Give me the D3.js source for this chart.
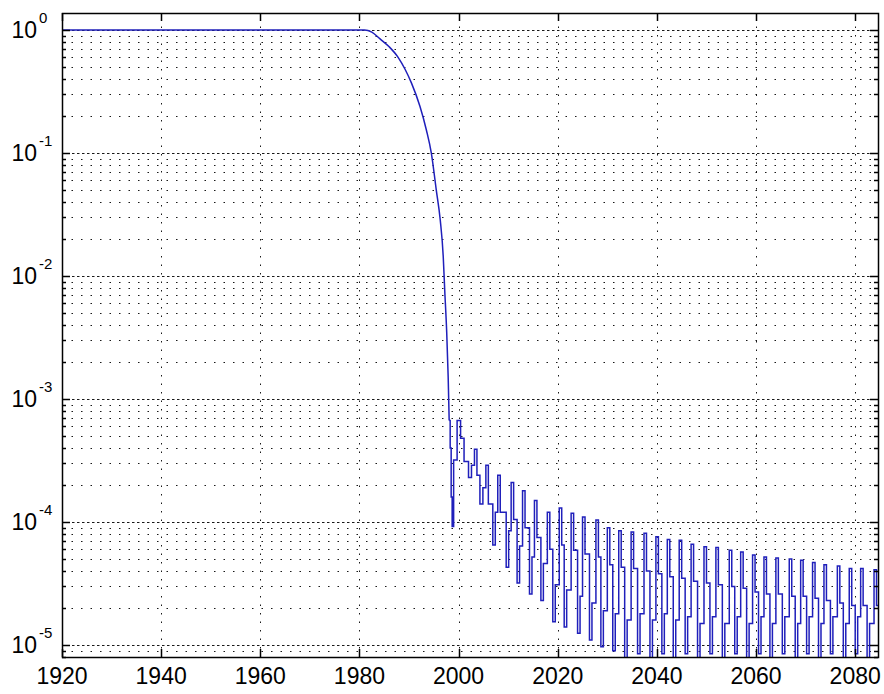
<!DOCTYPE html>
<html>
<head>
<meta charset="utf-8">
<script src="https://cdn.jsdelivr.net/npm/d3@7"></script>
<style>
body{margin:0;background:#fff;}
text{font-family:"Liberation Sans",Arial,sans-serif;fill:#000;}
</style>
</head>
<body>
<div id="chart"></div>
<script>
//width and height
var w = 884;
var h = 694;
var plotLeft = 62, plotRight = 878, plotTop = 13, plotBottom = 657;

// axis settings
var xTicks = [1920,1940,1960,1980,2000,2020,2040,2060,2080];
var yTickExps = [0,-1,-2,-3,-4,-5];
var xLimits = [1920, 2084.6];
var yLimits = [8e-6, 1.375];

// smooth fall-off part of the curve
var decayYears  = [1920, 1981, 1982.5, 1984.1, 1986.0, 1987.8, 1989.2, 1990.5, 1992.2, 1993.5,
                   1994.5, 1995.5, 1996.3, 1996.9, 1997.2, 1997.6, 1997.9, 1998.1];
var decayValues = [1, 1, 0.96, 0.85, 0.73, 0.6, 0.48, 0.37, 0.24, 0.154,
                   0.1, 0.05, 0.0285, 0.0144, 0.0077, 0.0035, 0.0015, 6.7e-4];

// oscillating tail (drawn as steps)
var oscYears = [1998.1, 1998.3, 1998.5, 1998.7, 1999.0, 1999.7, 2000.4, 2001.1, 2002.0, 2002.6,
  2003.2, 2003.7, 2004.3, 2004.9, 2005.5, 2006.0, 2006.9, 2007.4, 2007.9, 2008.4,
  2009.6, 2010.1, 2010.6, 2011.1, 2011.8, 2012.3, 2012.9, 2013.4, 2014.3, 2014.8,
  2015.3, 2015.8, 2016.6, 2017.1, 2017.9, 2018.4, 2019.0, 2019.5, 2020.3, 2020.8,
  2021.3, 2021.8, 2022.7, 2023.2, 2024.0, 2024.5, 2025.0, 2025.5, 2026.4, 2026.9,
  2027.7, 2028.2, 2028.7, 2029.2, 2030.0, 2030.5, 2031.1, 2031.6, 2032.3, 2032.8,
  2033.5, 2034.0, 2034.8, 2035.3, 2036.1, 2036.6, 2037.4, 2037.9, 2038.6, 2039.1,
  2039.8, 2040.3, 2041.0, 2041.5, 2042.1, 2042.6, 2043.3, 2043.8, 2044.5, 2045.0,
  2045.7, 2046.2, 2046.9, 2047.4, 2048.2, 2048.7, 2049.5, 2050.0, 2050.7, 2051.2,
  2051.9, 2052.4, 2053.2, 2053.7, 2054.6, 2055.1, 2055.7, 2056.2, 2056.9, 2057.4,
  2058.1, 2058.6, 2059.3, 2059.8, 2060.5, 2061.0, 2061.6, 2062.1, 2062.8, 2063.3,
  2064.0, 2064.5, 2065.3, 2065.8, 2066.7, 2067.2, 2067.9, 2068.4, 2069.0, 2069.5,
  2070.2, 2070.7, 2071.4, 2071.9, 2072.6, 2073.1, 2073.7, 2074.2, 2075.0, 2075.5,
  2076.4, 2076.9, 2077.6, 2078.1, 2078.8, 2079.3, 2080.0, 2080.5, 2081.1, 2081.6,
  2082.4, 2082.9, 2083.8, 2084.3, 2084.6];
var oscValues = [6.7e-4, 4.0e-4, 1.6e-4, 9.2e-5, 3.2e-4, 6.7e-4, 4.8e-4, 3.1e-4, 2.3e-4, 2.9e-4,
  3.9e-4, 2.4e-4, 1.4e-4, 1.9e-4, 2.9e-4, 1.4e-4, 6.5e-5, 1.2e-4, 2.4e-4, 1.2e-4,
  4.3e-5, 8.5e-5, 2.1e-4, 1.05e-4, 3.2e-5, 6.4e-5, 1.8e-4, 9.0e-5, 2.6e-5, 5.2e-5,
  1.5e-4, 7.5e-5, 2.3e-5, 4.6e-5, 1.2e-4, 6.0e-5, 1.55e-5, 3.1e-5, 1.3e-4, 6.5e-5,
  1.4e-5, 2.8e-5, 1.18e-4, 5.9e-5, 1.25e-5, 2.5e-5, 1.1e-4, 5.5e-5, 1.1e-5, 2.2e-5,
  1.04e-4, 5.2e-5, 9.7e-6, 1.9e-5, 9.0e-5, 4.5e-5, 9.0e-6, 1.8e-5, 8.5e-5, 4.3e-5,
  7.0e-6, 1.6e-5, 8.3e-5, 4.2e-5, 8.5e-6, 1.8e-5, 8.1e-5, 4.0e-5, 6.5e-6, 1.6e-5,
  7.6e-5, 3.8e-5, 8.5e-6, 1.8e-5, 7.2e-5, 3.6e-5, 6.5e-6, 1.6e-5, 7.1e-5, 3.5e-5,
  8.5e-6, 1.7e-5, 6.6e-5, 3.3e-5, 6.5e-6, 1.5e-5, 6.3e-5, 3.2e-5, 8.5e-6, 1.7e-5,
  6.2e-5, 3.1e-5, 6.5e-6, 1.5e-5, 5.9e-5, 3.0e-5, 8.5e-6, 1.7e-5, 5.7e-5, 2.9e-5,
  6.5e-6, 1.5e-5, 5.4e-5, 2.7e-5, 8.5e-6, 1.7e-5, 5.2e-5, 2.6e-5, 6.5e-6, 1.5e-5,
  5.1e-5, 2.6e-5, 8.5e-6, 1.7e-5, 5.0e-5, 2.5e-5, 6.5e-6, 1.5e-5, 4.9e-5, 2.5e-5,
  8.5e-6, 1.7e-5, 4.7e-5, 2.4e-5, 6.5e-6, 1.5e-5, 4.5e-5, 2.3e-5, 8.5e-6, 1.7e-5,
  4.4e-5, 2.2e-5, 6.5e-6, 1.5e-5, 4.2e-5, 2.1e-5, 8.5e-6, 1.7e-5, 4.2e-5, 2.1e-5,
  6.5e-6, 1.5e-5, 4.1e-5, 2.1e-5, 2.1e-5];

var x = d3.scaleLinear().domain(xLimits).range([plotLeft, plotRight]);
var y = d3.scaleLog().domain(yLimits).range([plotBottom, plotTop]);

var svg = d3.select("#chart")
            .append("svg")
            .attr("width", w)
            .attr("height", h);

svg.append("rect").attr("width", w).attr("height", h).attr("fill", "#fff");

svg.append("clipPath").attr("id", "plotclip")
   .append("rect")
   .attr("x", plotLeft).attr("y", plotTop)
   .attr("width", plotRight - plotLeft).attr("height", plotBottom - plotTop);

// log ticks: decades are major, the rest minor
var allY = y.ticks();
var isMajor = function(d){ var l = Math.log10(d); return Math.abs(l - Math.round(l)) < 1e-9; };
var majorY = allY.filter(isMajor);
var minorY = allY.filter(function(d){ return !isMajor(d); });
var py = function(d){ return Math.round(y(d)) + 0.5; };
var px = function(d){ return Math.round(x(d)) + 0.5; };

var grid = svg.append("g").attr("clip-path", "url(#plotclip)")
              .attr("stroke", "#000").attr("stroke-width", 1).attr("fill", "none");

grid.selectAll(".minor")
    .data(minorY)
    .enter()
    .append("line")
    .attr("x1", plotLeft).attr("x2", plotRight)
    .attr("y1", py).attr("y2", py)
    .attr("stroke-dasharray", "1.5,8")
    .attr("stroke-opacity", 0.9);

grid.selectAll(".major")
    .data(majorY)
    .enter()
    .append("line")
    .attr("x1", plotLeft).attr("x2", plotRight)
    .attr("y1", py).attr("y2", py)
    .attr("stroke-dasharray", "2.5,2.5")
    .attr("stroke-opacity", 0.9);

grid.selectAll(".vgrid")
    .data(xTicks.slice(1))
    .enter()
    .append("line")
    .attr("x1", px).attr("x2", px)
    .attr("y1", plotBottom).attr("y2", plotTop)
    .attr("stroke-dasharray", "1.5,7")
    .attr("stroke-opacity", 0.9);

// the curve
var plot = svg.append("g").attr("clip-path", "url(#plotclip)");

var decay = decayYears.map(function(d, i){ return [d, decayValues[i]]; });
var osc = oscYears.map(function(d, i){ return [d, oscValues[i]]; });

var lineSmooth = d3.line()
    .x(function(d){ return x(d[0]); })
    .y(function(d){ return y(d[1]); })
    .curve(d3.curveMonotoneX);
var lineStep = d3.line()
    .x(function(d){ return x(d[0]); })
    .y(function(d){ return y(d[1]); })
    .curve(d3.curveStepAfter);

plot.append("path").attr("d", lineSmooth(decay))
    .attr("fill", "none").attr("stroke", "#1f1fbb").attr("stroke-width", 1.5);
plot.append("path").attr("d", lineStep(osc))
    .attr("fill", "none").attr("stroke", "#1f1fbb").attr("stroke-width", 1.5);

// axes box and inward ticks
var axes = svg.append("g").attr("stroke", "#000").attr("fill", "none");
axes.append("rect")
    .attr("x", plotLeft + 0.5).attr("y", plotTop + 0.5)
    .attr("width", plotRight - plotLeft).attr("height", plotBottom - plotTop)
    .attr("stroke-width", 1.5);

var tickLen = function(d){ return isMajor(d) ? 8 : 4; };
axes.selectAll(".ltick").data(allY).enter().append("line")
    .attr("x1", plotLeft).attr("x2", function(d){ return plotLeft + tickLen(d); })
    .attr("y1", py).attr("y2", py)
    .attr("stroke-width", 1.5);
axes.selectAll(".rtick").data(allY).enter().append("line")
    .attr("x1", plotRight).attr("x2", function(d){ return plotRight - tickLen(d); })
    .attr("y1", py).attr("y2", py)
    .attr("stroke-width", 1.5);
axes.selectAll(".btick").data(xTicks).enter().append("line")
    .attr("x1", px).attr("x2", px)
    .attr("y1", plotBottom).attr("y2", plotBottom - 8)
    .attr("stroke-width", 1.5);
axes.selectAll(".ttick").data(xTicks).enter().append("line")
    .attr("x1", px).attr("x2", px)
    .attr("y1", plotTop).attr("y2", plotTop + 8)
    .attr("stroke-width", 1.5);

// tick labels
svg.selectAll(".xlab")
    .data(xTicks)
    .enter()
    .append("text")
    .attr("x", function(d){ return x(d); })
    .attr("y", 684)
    .attr("text-anchor", "middle")
    .attr("font-size", 23)
    .text(function(d){ return d; });

var ylab = svg.selectAll(".ylab")
    .data(yTickExps)
    .enter()
    .append("g");
ylab.append("text")
    .attr("x", 37)
    .attr("y", function(d){ return y(Math.pow(10, d)) + 8; })
    .attr("text-anchor", "end")
    .attr("font-size", 23)
    .text("10");
ylab.append("text")
    .attr("x", 39)
    .attr("y", function(d){ return y(Math.pow(10, d)) - 7; })
    .attr("font-size", 15)
    .text(function(d){ return d; });
</script>
</body>
</html>
